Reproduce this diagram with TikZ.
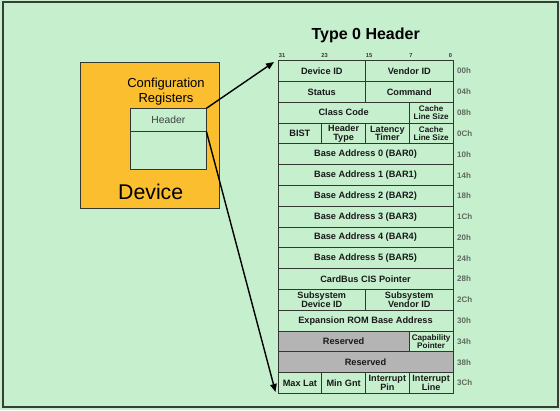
\documentclass[tikz,border=0pt]{standalone}
\usepackage{fontspec}
\setmainfont{Liberation Sans}
\usetikzlibrary{arrows.meta}
\definecolor{bg}{RGB}{198,239,206}
\definecolor{devorange}{RGB}{251,190,46}
\definecolor{resgray}{RGB}{180,180,180}
\definecolor{lineclr}{RGB}{50,55,50}
\definecolor{offclr}{RGB}{95,105,95}
\definecolor{frameclr}{RGB}{55,62,55}
\tikzset{
  cell/.style={draw=lineclr, line width=0.9pt, fill=bg, inner sep=0pt, align=center,
    font=\bfseries\fontsize{9.2}{10}\selectfont, text=black!90},
  small/.style={font=\bfseries\fontsize{8.1}{8.4}\selectfont},
  twoline/.style={font=\bfseries\fontsize{9.1}{8.6}\selectfont},
  graycell/.style={fill=resgray},
  offs/.style={anchor=west, inner sep=0pt, text=offclr, font=\bfseries\fontsize{8}{9}\selectfont},
  bitlbl/.style={inner sep=0pt, text=black!80, font=\bfseries\fontsize{5.7}{6}\selectfont},
  conn/.style={line width=1.4pt, -{Triangle[length=8pt,width=6.5pt]}},
  box/.style={draw=lineclr, line width=0.8pt, inner sep=0pt}
}
\newcommand\regcell[6][]{%
  \node[cell,#1,minimum width={43.75pt*#4},minimum height=20.8pt] (#2)
    at ({278+43.75*(#3+#4/2)},{60.7+20.8*(#5+0.5)}) {#6};}
\begin{document}
\begin{tikzpicture}[x=1pt,y=-1pt]
\fill[bg] (0,0) rectangle (560,410);
\useasboundingbox (0,0) rectangle (560,410);
\draw[frameclr, line width=2pt] (2.5,2) rectangle (557.5,406.5);

% device
\node[box, fill=devorange, minimum width=138.3pt, minimum height=145.3pt] (dev) at (149.85,135.35) {};
\node[inner sep=0pt, font=\fontsize{21.3}{24}\selectfont] (devlbl) at (150.7,192) {Device};
\node[inner sep=0pt, align=center, font=\fontsize{13}{15}\selectfont] (cfg) at (166,92) {Configuration\\Registers};
\node[box, fill=bg, minimum width=75.3pt, minimum height=22.3pt, text=black!75,
      font=\fontsize{10.3}{12}\selectfont] (hdr) at (168.35,119.85) {Header};
\node[box, fill=bg, minimum width=75.3pt, minimum height=38pt] (body) at (168.35,150) {};

% title
\node[font=\bfseries\fontsize{16}{18}\selectfont, inner sep=0pt] (title) at (365.7,35) {Type 0 Header};

% bit numbers
\foreach \b/\x in {31/282,23/324.5,15/369,7/411,0/450.5}
  \node[bitlbl] (bit\b) at (\x,55.5) {\b};

% table
\regcell{r0a}{0}{2}{0}{Device ID}
\regcell{r0b}{2}{2}{0}{Vendor ID}
\regcell{r1a}{0}{2}{1}{Status}
\regcell{r1b}{2}{2}{1}{Command}
\regcell{r2a}{0}{3}{2}{Class Code}
\regcell[small]{r2b}{3}{1}{2}{Cache\\Line Size}
\regcell{r3a}{0}{1}{3}{BIST}
\regcell[twoline]{r3b}{1}{1}{3}{Header\\Type}
\regcell[twoline]{r3c}{2}{1}{3}{Latency\\Timer}
\regcell[small]{r3d}{3}{1}{3}{Cache\\Line Size}
\regcell{r4}{0}{4}{4}{Base Address 0 (BAR0)}
\regcell{r5}{0}{4}{5}{Base Address 1 (BAR1)}
\regcell{r6}{0}{4}{6}{Base Address 2 (BAR2)}
\regcell{r7}{0}{4}{7}{Base Address 3 (BAR3)}
\regcell{r8}{0}{4}{8}{Base Address 4 (BAR4)}
\regcell{r9}{0}{4}{9}{Base Address 5 (BAR5)}
\regcell{r10}{0}{4}{10}{CardBus CIS Pointer}
\regcell[twoline]{r11a}{0}{2}{11}{Subsystem\\Device ID}
\regcell[twoline]{r11b}{2}{2}{11}{Subsystem\\Vendor ID}
\regcell{r12}{0}{4}{12}{Expansion ROM Base Address}
\regcell[graycell]{r13a}{0}{3}{13}{Reserved}
\regcell[small]{r13b}{3}{1}{13}{Capability\\Pointer}
\regcell[graycell]{r14}{0}{4}{14}{Reserved}
\regcell{r15a}{0}{1}{15}{Max Lat}
\regcell{r15b}{1}{1}{15}{Min Gnt}
\regcell[twoline]{r15c}{2}{1}{15}{Interrupt\\Pin}
\regcell[twoline]{r15d}{3}{1}{15}{Interrupt\\Line}

% offsets
\foreach \t [count=\i from 0] in {00h,04h,08h,0Ch,10h,14h,18h,1Ch,20h,24h,28h,2Ch,30h,34h,38h,3Ch}
  \node[offs] (off\i) at (457,{60.7+20.8*(\i+0.5)}) {\t};

% connectors
\coordinate (tipA) at (274,62);
\coordinate (tipB) at (275.5,392);
\draw[conn] (hdr.north east) -- (tipA);
\draw[conn] (hdr.south east) -- (tipB);
\end{tikzpicture}
\end{document}
